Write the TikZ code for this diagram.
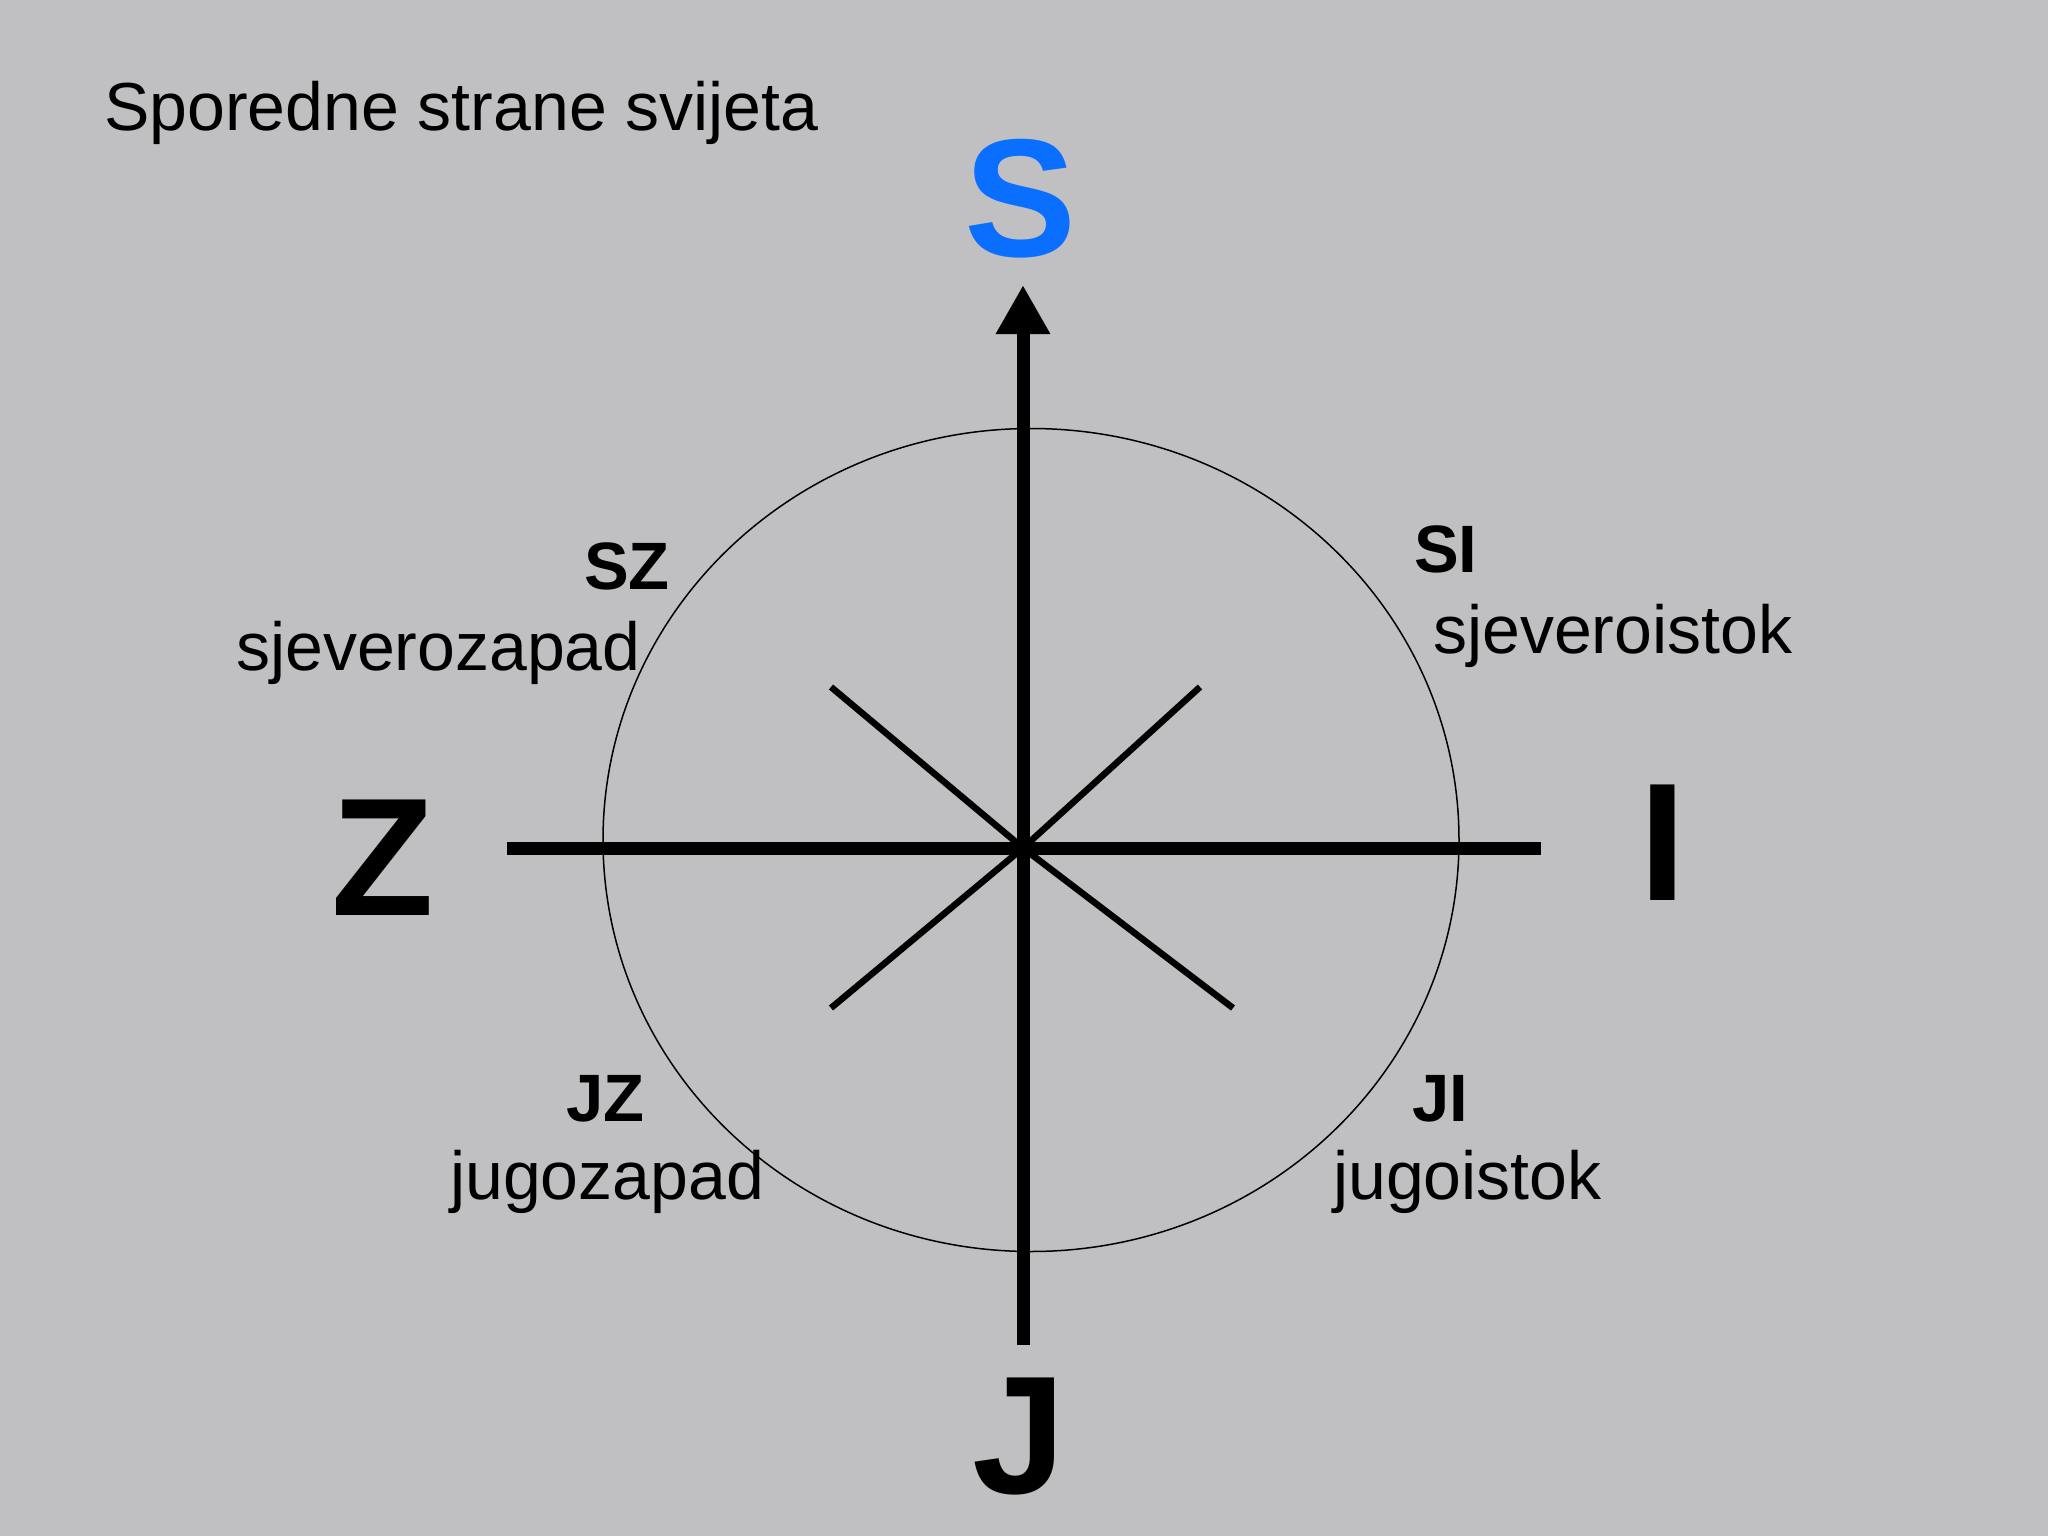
\documentclass[tikz,border=0pt]{standalone}
\usepackage{fontspec}
\setmainfont{Liberation Sans}
\usetikzlibrary{arrows.meta}
\definecolor{bggray}{RGB}{192,191,194}
\definecolor{sblue}{RGB}{10,110,255}
\begin{document}
\begin{tikzpicture}[x=1pt,y=-1pt,
    axis/.style={line width=13pt},
    diag/.style={line width=6.5pt},
    bigdir/.style={inner sep=0pt,anchor=base,font=\bfseries\fontsize{168}{170}\selectfont},
    subdir/.style={inner sep=0pt,anchor=base west,font=\bfseries\fontsize{67}{70}\selectfont},
    dirname/.style={inner sep=0pt,anchor=base west,font=\fontsize{68}{72}\selectfont}]
    \fill[bggray] (0,0) rectangle (2048,1536);
    \useasboundingbox (0,0) rectangle (2048,1536);
    \coordinate (O) at (1023,848);
    \coordinate (Ntip) at (1023,285);
    \coordinate (Send) at (1023,1345);
    \coordinate (Wend) at (507,848);
    \coordinate (Eend) at (1541,848);
    \coordinate (NW) at (831,687);
    \coordinate (NE) at (1200,687);
    \coordinate (SW) at (831,1008);
    \coordinate (SE) at (1233,1008);
    \draw[line width=1.5pt] (1031,840) ellipse [x radius=428pt,y radius=411.5pt];
    \draw[diag] (O) -- (NW) (O) -- (NE) (O) -- (SW) (O) -- (SE);
    \draw[axis] (Wend) -- (Eend);
    \draw[axis,-{Triangle[length=49pt,width=51pt]}] (Send) -- (Ntip);
    \node[dirname] (title) at (104,131) {Sporedne strane svijeta};
    \node[bigdir,text=sblue] (S) at (1021,256) {S};
    \node[bigdir] (Z) at (383,915) {Z};
    \node[bigdir] (I) at (1663,900) {I};
    \node[bigdir] (J) at (1019,1493) {J};
    \node[subdir] (SZ) at (584,589) {SZ};
    \node[dirname] (sz) at (236,670) {sjeverozapad};
    \node[subdir] (SI) at (1414,572) {SI};
    \node[dirname] (si) at (1433,653) {sjeveroistok};
    \node[subdir] (JZ) at (566,1121) {JZ};
    \node[dirname] (jz) at (450,1199) {jugozapad};
    \node[subdir] (JI) at (1412,1121) {JI};
    \node[dirname] (ji) at (1333,1199) {jugoistok};
\end{tikzpicture}
\end{document}
